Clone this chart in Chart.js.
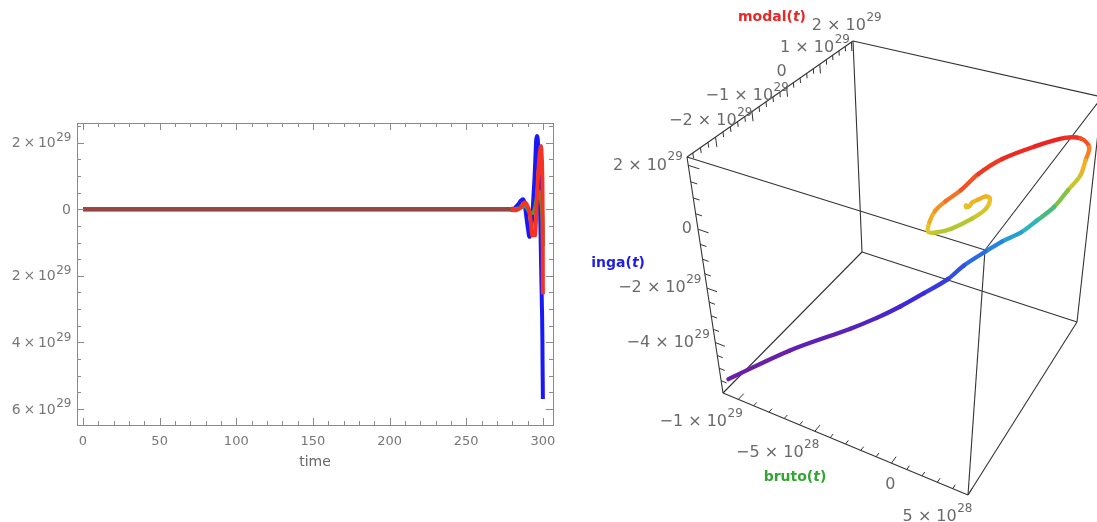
<!DOCTYPE html>
<html><head><meta charset="utf-8">
<script src="https://cdn.jsdelivr.net/npm/chart.js@4.4.1/dist/chart.umd.min.js"></script>
<style>
html,body{margin:0;padding:0;background:#fff;}
body{width:1097px;height:522px;position:relative;overflow:hidden;}
#lbox{position:absolute;left:0;top:0;width:575px;height:522px;}
#rbox{position:absolute;left:586px;top:0;width:511px;height:522px;}
</style></head><body>
<div id="lbox"><canvas id="c1" width="575" height="522"></canvas></div>
<div id="rbox"><canvas id="c2" width="511" height="522"></canvas></div>
<script>
// ---------------- DATA (values in units of 10^29) ----------------
const time  = [0, 279, 280, 281, 282, 284, 285.5, 287, 288, 289,
               290, 291.3, 292.3, 293, 293.5, 294, 294.5, 295, 295.3, 295.6,
               296, 296.5, 297, 297.4, 297.8, 298.2, 298.5, 298.8, 299.0, 299.2,
               299.35, 299.5, 299.6, 299.7, 299.75, 299.8, 299.85, 299.9, 299.95, 300];
const bruto = [0, 0, -0.02, -0.01, 0.01, 0.02, 0.05, 0.08, 0.10, 0.08,
               0.01, -0.09, -0.12, -0.12, -0.11, -0.08, -0.02, 0.07, 0.13, 0.22,
               0.35, 0.46, 0.51, 0.53, 0.49, 0.45, 0.37, 0.28, 0.19, 0.11,
               0.00, -0.08, -0.18, -0.25, -0.36, -0.46, -0.56, -0.67, -0.91, -1.10];
const modal = [0, 0, 0.02, -0.03, -0.03, 0.00, 0.05, 0.15, 0.20, 0.18,
               0.09, -0.08, -0.47, -0.78, -0.79, -0.78, -0.77, -0.78, -0.53, -0.22,
               0.23, 0.71, 1.08, 1.40, 1.62, 1.76, 1.84, 1.90, 1.78, 1.62,
               1.50, 1.30, 1.03, 0.80, 0.49, 0.13, -0.21, -0.59, -1.49, -2.55];
const inga  = [0, 0, -0.03, -0.02, 0.05, 0.15, 0.25, 0.30, 0.20, -0.15,
               -0.50, -0.83, -0.60, -0.25, 0.10, 0.50, 0.90, 1.40, 1.75, 2.05,
               2.20, 2.15, 1.85, 1.30, 0.60, -0.10, -0.80, -1.60, -2.10, -2.50,
               -2.90, -3.20, -3.60, -4.00, -4.40, -4.70, -4.95, -5.15, -5.45, -5.70];

const leftXTicks  = [0, 50, 100, 150, 200, 250, 300];
const leftYTicks  = [2, 0, -2, -4, -6];
const leftYLabels = ['2\u2009×\u200910^29', '0', '2\u2009×\u200910^29', '4\u2009×\u200910^29', '6\u2009×\u200910^29'];

const brutoTicks  = [-1, -0.5, 0, 0.5];
const brutoLabels = ['−1 × 10^29', '−5 × 10^28', '0', '5 × 10^28'];
const modalTicks  = [-2, -1, 0, 1, 2];
const modalLabels = ['−2 × 10^29', '−1 × 10^29', '0', '1 × 10^29', '2 × 10^29'];
const ingaTicks   = [2, 0, -2, -4];
const ingaLabels  = ['2 × 10^29', '0', '−2 × 10^29', '−4 × 10^29'];

// plot ranges of the 3D box
const BR = [-1.1, 0.5], MR = [-2.75, 2.05], IR = [-6.0, 2.25];

// ---------------- helpers ----------------
function drawLabel(ctx,str,x,y,align,fs,es,rise){const parts=str.split('^');ctx.font=fs+'px "DejaVu Sans"';const w1=ctx.measureText(parts[0]).width;
 let w2=0;if(parts[1]){ctx.font=es+'px "DejaVu Sans"';w2=ctx.measureText(parts[1]).width;}
 const W=w1+w2;let x0=align==='right'?x-W:x-W/2;ctx.textBaseline='middle';ctx.textAlign='left';
 ctx.font=fs+'px "DejaVu Sans"';ctx.fillText(parts[0],x0,y);if(parts[1]){ctx.font=es+'px "DejaVu Sans"';ctx.fillText(parts[1],x0+w1+0.5,y-rise);}}

// ---------------- LEFT CHART ----------------
const RED='rgb(245,50,35)', GREEN='rgb(60,160,60)', BLUE='rgb(25,25,245)', BROWN='rgb(150,70,68)';
const FRAME='#8a8a8a';
const frameTicks={id:'frameTicks',afterDraw(chart){
 const {ctx,chartArea:a,scales:{x,y}}=chart;ctx.save();ctx.strokeStyle=FRAME;ctx.lineWidth=1;
 ctx.strokeRect(Math.round(a.left)+0.5,Math.round(a.top)+0.5,Math.round(a.right-a.left),Math.round(a.bottom-a.top));
 ctx.beginPath();
 for(let k=0;k<=30;k++){const px=Math.round(x.getPixelForValue(k*10))+0.5;const L=k%5===0?7:4;
  ctx.moveTo(px,a.bottom);ctx.lineTo(px,a.bottom-L);ctx.moveTo(px,a.top);ctx.lineTo(px,a.top+L);}
 for(let k=-12;k<=5;k++){const py=Math.round(y.getPixelForValue(k*0.5))+0.5;const L=k%4===0?7:4;
  ctx.moveTo(a.left,py);ctx.lineTo(a.left+L,py);ctx.moveTo(a.right,py);ctx.lineTo(a.right-L,py);}
 ctx.stroke();
 ctx.fillStyle='#777';
 leftYTicks.forEach((v,i)=>drawLabel(ctx,leftYLabels[i],a.left-6,y.getPixelForValue(v)+1,'right',14,12,6));
 ctx.restore();}};

function series(arr){return time.map((t,i)=>({x:t,y:arr[i]}));}
const allZero=i=>bruto[i]===0&&modal[i]===0&&inga[i]===0;
const flatSeg=c=>(allZero(c.p0DataIndex)&&allZero(c.p1DataIndex))?BROWN:undefined;
new Chart(document.getElementById('c1'),{type:'line',
 data:{datasets:[
  {label:'modal',data:series(modal),borderColor:RED,borderWidth:4,pointRadius:0,cubicInterpolationMode:'monotone',segment:{borderColor:flatSeg}},
  {label:'bruto',data:series(bruto),borderColor:GREEN,borderWidth:4,pointRadius:0,cubicInterpolationMode:'monotone'},
  {label:'inga',data:series(inga),borderColor:BLUE,borderWidth:4,pointRadius:0,cubicInterpolationMode:'monotone'}]},
 options:{responsive:false,animation:false,events:[],
  layout:{padding:{left:0,top:123,right:22,bottom:42}},
  plugins:{legend:{display:false},tooltip:{enabled:false}},
  scales:{
   x:{type:'linear',min:-3.9,max:306.6,grid:{display:false,drawTicks:false},border:{display:false},
    afterBuildTicks:s=>{s.ticks=leftXTicks.map(v=>({value:v}));},afterFit:s=>{s.height=55;},
    ticks:{padding:9,color:'#777',font:{family:'DejaVu Sans',size:13},maxRotation:0,autoSkip:false},
    title:{display:true,text:'time',color:'#666',font:{family:'DejaVu Sans',size:14},padding:{top:0,bottom:9}}},
   y:{min:-6.48,max:2.59,grid:{display:false,drawTicks:false},border:{display:false},
    afterBuildTicks:s=>{s.ticks=leftYTicks.map(v=>({value:v}));},afterFit:s=>{s.width=77;},
    ticks:{display:false}}}},
 plugins:[frameTicks]});

// ---------------- RIGHT 3D CHART ----------------
// screen corners of the perspective box (layout)
const C = {FBL:[723,393],FBR:[968,495],FTL:[687,157],FTR:[985,250],BBL:[862,252],BBR:[1077,322],BTL:[853,41],BTR:[1102,97]};
const RX = 586;
function warp(s,g){return s*(1+g)/(1+g*s);}
function lerp(a,b,t){return [a[0]+(b[0]-a[0])*t,a[1]+(b[1]-a[1])*t];}
function proj(b,m,z){
  const u=(b-BR[0])/(BR[1]-BR[0]);
  const v=warp((m-MR[0])/(MR[1]-MR[0]),0.12);
  const w=warp((z-IR[0])/(IR[1]-IR[0]),-0.15);
  const fb=lerp(C.FBL,C.FBR,u),ft=lerp(C.FTL,C.FTR,u),bb=lerp(C.BBL,C.BBR,u),bt=lerp(C.BTL,C.BTR,u);
  return lerp(lerp(fb,ft,w),lerp(bb,bt,w),v);
}
function P(b,m,z){const p=proj(b,m,z);return {x:p[0]-RX,y:p[1]};}

const stops=[[0,[110,30,160]],[0.15,[60,40,220]],[0.3,[40,110,230]],[0.42,[40,180,200]],[0.52,[90,190,90]],[0.62,[170,200,50]],[0.72,[235,195,40]],[0.84,[245,130,35]],[1,[235,35,35]]];
function rainbow(s){s=Math.max(0,Math.min(1,s));for(let i=1;i<stops.length;i++){if(s<=stops[i][0]){const a=stops[i-1],b=stops[i],f=(s-a[0])/(b[0]-a[0]);
 return 'rgb('+a[1].map((c,j)=>Math.round(c+(b[1][j]-c)*f)).join(',')+')';}}return 'rgb(235,35,35)';}
const zmin=Math.min(...inga),zmax=Math.max(...inga);

const curve=time.map((t,i)=>P(bruto[i],modal[i],inga[i]));
const edges=[];
[[0,0],[0,1],[1,0],[1,1]].forEach(([i,j])=>{
 edges.push([P(BR[0],MR[i],IR[j]),P(BR[1],MR[i],IR[j])]);
 edges.push([P(BR[i],MR[0],IR[j]),P(BR[i],MR[1],IR[j])]);
 edges.push([P(BR[i],MR[j],IR[0]),P(BR[i],MR[j],IR[1])]);});
const ds=[{label:'curve',data:curve,showLine:true,borderWidth:4.3,pointRadius:0,tension:0.35,borderCapStyle:'round',borderJoinStyle:'round',
 segment:{borderColor:c=>rainbow(((inga[c.p0DataIndex]+inga[c.p1DataIndex])/2-zmin)/(zmax-zmin))}}];
edges.forEach(e=>ds.push({data:e,showLine:true,borderColor:'#333',borderWidth:1.1,pointRadius:0}));

function axisTitle(ctx,name,color,x,y,align){ctx.fillStyle=color;ctx.textBaseline='middle';ctx.textAlign='left';
 const f1='bold 14px "DejaVu Sans"',f2='bold italic 14px "DejaVu Sans"';ctx.font=f1;const a=ctx.measureText(name+'(').width;ctx.font=f2;const b=ctx.measureText('t').width;ctx.font=f1;const c=ctx.measureText(')').width;
 let x0=align==='right'?x-(a+b+c):x-(a+b+c)/2;ctx.font=f1;ctx.fillText(name+'(',x0,y);ctx.font=f2;ctx.fillText('t',x0+a,y);ctx.font=f1;ctx.fillText(')',x0+a+b,y);}
const box3d={id:'box3d',afterDatasetsDraw(chart){const ctx=chart.ctx;ctx.save();ctx.strokeStyle='#333';ctx.lineWidth=1;ctx.beginPath();
 const seg=(p,q)=>{ctx.moveTo(p.x,p.y);ctx.lineTo(q.x,q.y);};
 for(let k=-13;k<=10;k++){const m=k*0.2;if(m<MR[0]||m>MR[1])continue;const maj=k%5===0;seg(P(BR[0],m,IR[1]),P(BR[0],m,IR[1]-(maj?0.3:0.16)));}
 for(let k=-11;k<=4;k++){const z=k*0.5;if(z<IR[0]||z>IR[1])continue;const maj=k%4===0;seg(P(BR[0],MR[0],z),P(BR[0]+(maj?0.06:0.035),MR[0],z));}
 for(let k=-11;k<=5;k++){const b=k*0.1;if(b<BR[0]||b>BR[1])continue;const maj=k%5===0;seg(P(b,MR[0],IR[0]),P(b,MR[0]+(maj?0.17:0.1),IR[0]));}
 ctx.stroke();ctx.fillStyle='#6a6a6a';
 modalTicks.forEach((m,i)=>{const p=P(BR[0],m,IR[1]);drawLabel(ctx,modalLabels[i],p.x-5,p.y-16,'center',16,12,8);});
 ingaTicks.forEach((z,i)=>{const p=P(BR[0],MR[0],z);drawLabel(ctx,ingaLabels[i],p.x-6,p.y,'right',16,12,8);});
 brutoTicks.forEach((b,i)=>{const p=P(b,MR[0],IR[0]);drawLabel(ctx,brutoLabels[i],p.x+4,p.y+22,'right',16,12,8);});
 axisTitle(ctx,'modal','rgb(232,40,40)',772-RX,17,'center');
 axisTitle(ctx,'inga','rgb(30,30,230)',645-RX,263,'right');
 axisTitle(ctx,'bruto','rgb(50,165,50)',795-RX,477,'center');
 ctx.restore();}};
new Chart(document.getElementById('c2'),{type:'scatter',data:{datasets:ds},
 options:{responsive:false,animation:false,events:[],layout:{padding:0},plugins:{legend:{display:false},tooltip:{enabled:false}},
  scales:{x:{type:'linear',min:0,max:511,display:false},y:{type:'linear',min:0,max:522,reverse:true,display:false}}},
 plugins:[box3d]});
</script></body></html>
